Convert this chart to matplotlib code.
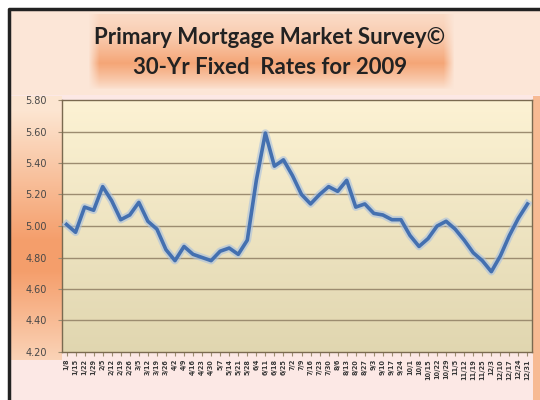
import numpy as np
import matplotlib.pyplot as plt
import matplotlib.patheffects as pe

# Freddie Mac PMMS weekly 30-yr fixed rate, 2009
dates = ["1/8", "1/15", "1/22", "1/29", "2/5", "2/12", "2/19", "2/26",
         "3/5", "3/12", "3/19", "3/26", "4/2", "4/9", "4/16", "4/23",
         "4/30", "5/7", "5/14", "5/21", "5/28", "6/4", "6/11", "6/18",
         "6/25", "7/2", "7/9", "7/16", "7/23", "7/30", "8/6", "8/13",
         "8/20", "8/27", "9/3", "9/10", "9/17", "9/24", "10/1", "10/8",
         "10/15", "10/22", "10/29", "11/5", "11/12", "11/19", "11/25", "12/3",
         "12/10", "12/17", "12/24", "12/31"]
rates = [5.01, 4.96, 5.12, 5.10, 5.25, 5.16, 5.04, 5.07,
         5.15, 5.03, 4.98, 4.85, 4.78, 4.87, 4.82, 4.80,
         4.78, 4.84, 4.86, 4.82, 4.91, 5.29, 5.59, 5.38,
         5.42, 5.32, 5.20, 5.14, 5.20, 5.25, 5.22, 5.29,
         5.12, 5.14, 5.08, 5.07, 5.04, 5.04, 4.94, 4.87,
         4.92, 5.00, 5.03, 4.98, 4.91, 4.83, 4.78, 4.71,
         4.81, 4.94, 5.05, 5.14]
yticks = [4.20, 4.40, 4.60, 4.80, 5.00, 5.20, 5.40, 5.60, 5.80]

W, H = 540, 400
fig = plt.figure(figsize=(W / 100, H / 100), dpi=100)

# background: pale pink with an orange band behind the y labels
yy, xx = np.mgrid[0:H, 0:W].astype(float)
pink = np.array([0.99, 0.91, 0.90])
peach = np.array([0.99, 0.90, 0.82])
orange = np.array([0.96, 0.62, 0.42])
bg = np.ones((H, W, 3)) * pink
t = np.clip((yy - 110) / 130, 0, 1) * np.clip((390 - yy) / 120, 0, 1)
left = (xx < 62) & (yy > 95) & (yy < 360)
bg[left] = (peach * (1 - t[left, None]) + orange * t[left, None])
right = (xx > 532) & (yy > 95)
bg[right] = peach * 0.4 + orange * 0.6
top = yy < 95
bg[top] = peach * 0.7 + pink * 0.3
bg[(xx < 8) | (yy < 8)] = 1.0
ax_bg = fig.add_axes([0, 0, 1, 1], zorder=-5)
ax_bg.imshow(bg, extent=(0, W, H, 0), aspect="auto")
ax_bg.plot([9, 9, W], [H, 9, 9], color="#222222", lw=2.5)
ax_bg.set_xlim(0, W)
ax_bg.set_ylim(H, 0)
ax_bg.axis("off")

# title banner gradient
bx0, bx1, by0, by1 = 88, 455, 14, 90
bh, bw = by1 - by0, bx1 - bx0
v = np.linspace(0, 1, bh)[:, None]
u = np.linspace(0, 1, bw)[None, :]
vert = np.where(v < 0.65, 0.2 + 0.8 * (v / 0.65) ** 1.5,
                np.clip((1 - v) / 0.35, 0, 1) ** 0.8)
strength = vert * np.clip(np.minimum(u, 1 - u) / 0.03, 0, 1)
banner = np.zeros((bh, bw, 4))
banner[..., :3] = orange
banner[..., 3] = 0.9 * strength
ax_bg.imshow(banner, extent=(bx0, bx1, by1, by0), aspect="auto", zorder=1)

fig.text(0.5, 1 - 38 / H, "Primary Mortgage Market Survey\u00a9", ha="center",
         va="center", fontsize=16, fontweight="bold", family="Lato",
         color="#222222")
fig.text(0.5, 1 - 68 / H, "30-Yr Fixed  Rates for 2009", ha="center",
         va="center", fontsize=16, fontweight="bold", family="Lato",
         color="#222222")

ax = fig.add_axes([62 / W, 1 - 352 / H, (532 - 62) / W, (352 - 100) / H])
x = np.arange(len(rates))
ax.set_xlim(-0.5, len(rates) - 0.5)
ax.set_ylim(4.2, 5.8)

# cream-to-tan plot fill
grad = np.linspace(0, 1, 200)[:, None]
c_top = np.array([0.99, 0.95, 0.83])
c_bot = np.array([0.88, 0.84, 0.69])
fill = c_top * (1 - grad[..., None]) + c_bot * grad[..., None]
ax.imshow(fill, extent=(-0.5, len(rates) - 0.5, 4.2, 5.8), aspect="auto",
          origin="upper", zorder=0)

for yv in yticks[1:-1]:
    ax.axhline(yv, color="#9c8c70", lw=1.0, zorder=1)

ax.plot(x, rates, color="#4470b0", lw=2.6, zorder=3,
        path_effects=[pe.Stroke(linewidth=5.5, foreground="#a8c0e0", alpha=0.6),
                      pe.Normal()])

ax.set_yticks(yticks)
ax.set_yticklabels([f"{v:.2f}" for v in yticks], fontsize=7, color="#484848")
ax.set_xticks(x)
ax.set_xticklabels(dates, rotation=90, fontsize=4.7, color="#383838",
                   fontweight="bold")
ax.tick_params(axis="x", length=3, color="#9c8c70", pad=2)
ax.tick_params(axis="y", length=3, color="#9c8c70", pad=8)
for s in ax.spines.values():
    s.set_color("#7a6a50")
    s.set_linewidth(1.0)

fig.savefig("out.png", dpi=100)
